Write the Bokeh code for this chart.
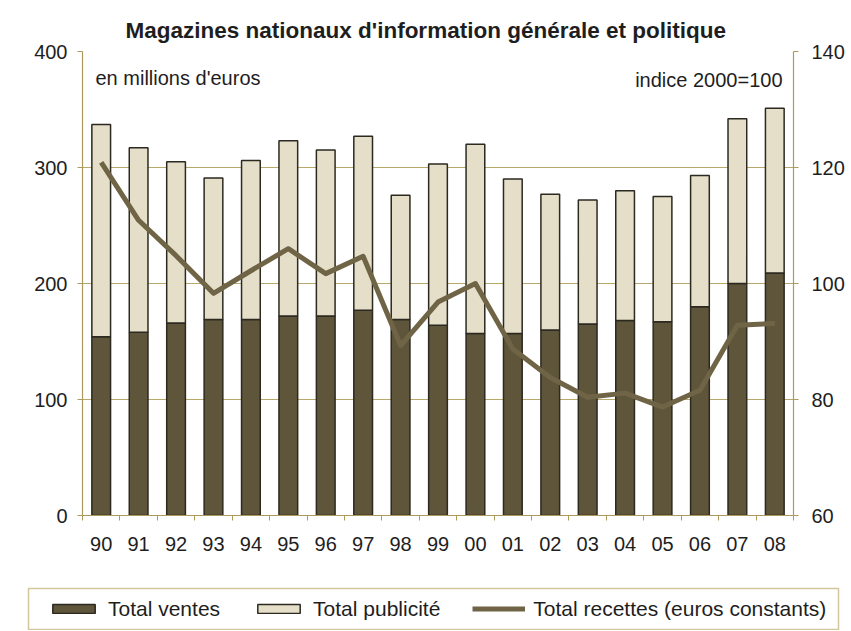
from bokeh.plotting import figure
from bokeh.layouts import column
from bokeh.models import (Range1d, LinearAxis, FixedTicker, Legend, LegendItem,
                          Label, ColumnDataSource, Grid)
from bokeh.embed import file_html
from bokeh.resources import INLINE

years = ["90", "91", "92", "93", "94", "95", "96", "97", "98", "99",
         "00", "01", "02", "03", "04", "05", "06", "07", "08"]
ventes = [154, 158, 166, 169, 169, 172, 172, 177, 169, 164,
          157, 157, 160, 165, 168, 167, 180, 200, 209]
publicite = [183, 159, 139, 122, 137, 151, 143, 150, 107, 139,
             163, 133, 117, 107, 112, 108, 113, 142, 142]
recettes = [120.9, 110.9, 104.8, 98.3, 102.2, 106.0, 101.7, 104.7, 89.3, 96.8,
            100.0, 88.7, 83.8, 80.4, 81.1, 78.7, 81.6, 92.8, 93.1]
left_ticks = [0, 100, 200, 300, 400]
grid_ticks = [100, 200, 300]
right_ticks = [60, 80, 100, 120, 140]

FONT = "Liberation Sans"
AXIS_COL = "#ab9a5c"
GRID_COL = "#b8a86c"
DARK = "#5f553a"
LIGHT = "#e5dec9"
OUT = "#2b2920"
LINE = "#6f6546"
TXT = "#1e1e1e"
W = 848

x = list(range(len(years)))
src = ColumnDataSource(dict(x=x, ventes=ventes, publicite=publicite, recettes=recettes))

p = figure(width=W, height=573, output_backend="svg", toolbar_location=None,
           x_range=Range1d(-0.5, len(years) - 0.5), y_range=Range1d(0, 400),
           min_border_left=82, min_border_right=W - 793, min_border_top=51,
           min_border_bottom=58, x_axis_location=None, y_axis_location=None)
p.frame_align = False
p.center = [r for r in p.center if not isinstance(r, Grid)]
p.extra_y_ranges = {"idx": Range1d(60, 140)}
p.outline_line_color = None
p.background_fill_color = "white"
p.border_fill_color = "white"

p.title.text = "Magazines nationaux d'information générale et politique"
p.title.align = "left"
p.title.offset = 43
p.title.standoff = 17
p.title.text_font = FONT
p.title.text_font_size = "22.5px"
p.title.text_font_style = "bold"
p.title.text_color = TXT

p.add_layout(Grid(dimension=1, ticker=FixedTicker(ticks=grid_ticks),
                  grid_line_color=GRID_COL, grid_line_width=1))

def style_axis(ax):
    ax.axis_line_color = AXIS_COL
    ax.axis_line_width = 1.2
    ax.major_tick_line_color = AXIS_COL
    ax.minor_tick_line_color = AXIS_COL
    ax.major_label_text_font = FONT
    ax.major_label_text_font_size = "20px"
    ax.major_label_text_color = TXT

xax = LinearAxis(ticker=FixedTicker(ticks=x, minor_ticks=[i - 0.5 for i in range(len(years) + 1)]),
                 major_label_overrides={i: y for i, y in enumerate(years)})
style_axis(xax)
xax.major_tick_out = 0
xax.major_tick_in = 0
xax.minor_tick_out = 5
xax.minor_tick_in = 0
xax.major_label_standoff = 16
p.add_layout(xax, "below")

lax = LinearAxis(ticker=FixedTicker(ticks=left_ticks))
style_axis(lax)
lax.major_tick_out = 5
lax.major_tick_in = 0
lax.minor_tick_line_color = None
lax.major_label_standoff = 10
p.add_layout(lax, "left")

rax = LinearAxis(y_range_name="idx", ticker=FixedTicker(ticks=right_ticks))
style_axis(rax)
rax.major_tick_out = 5
rax.major_tick_in = 0
rax.minor_tick_line_color = None
rax.major_label_standoff = 13
p.add_layout(rax, "right")

p.vbar_stack(["ventes", "publicite"], x="x", width=0.5, source=src,
             fill_color=[DARK, LIGHT], line_color=OUT, line_width=1.5)
p.line("x", "recettes", source=src, y_range_name="idx",
       line_color=LINE, line_width=5, line_join="round")

p.add_layout(Label(x=13, y=438, x_units="screen", y_units="screen",
                   text="en millions d'euros", text_font=FONT, text_font_size="20px",
                   text_color=TXT, text_baseline="middle", text_align="left"))
p.add_layout(Label(x=700, y=436, x_units="screen", y_units="screen",
                   text="indice 2000=100", text_font=FONT, text_font_size="20px",
                   text_color=TXT, text_baseline="middle", text_align="right"))

# legend strip (its frame outline is the legend box)
lf = figure(width=W, height=57, output_backend="svg", toolbar_location=None,
            x_range=Range1d(-0.5, len(years) - 0.5), y_range=Range1d(-2000, -1999),
            min_border_left=28, min_border_right=W - 838, min_border_top=15,
            min_border_bottom=1, x_axis_location=None, y_axis_location=None)
lf.frame_align = False
lf.center = [r for r in lf.center if not isinstance(r, Grid)]
lf.outline_line_color = "#d3c69a"
lf.outline_line_width = 1.5
lf.background_fill_color = "white"
lf.border_fill_color = "white"
lb = lf.vbar_stack(["ventes", "publicite"], x="x", width=0.5, source=src,
                   fill_color=[DARK, LIGHT], line_color=OUT, line_width=1.5)
ll = lf.line("x", "recettes", source=src, line_color=LINE, line_width=5)
for r in list(lb) + [ll]:
    r.visible = False

legend = Legend(items=[LegendItem(label="Total ventes", renderers=[lb[0]]),
                       LegendItem(label="Total publicité", renderers=[lb[1]]),
                       LegendItem(label="Total recettes (euros constants)", renderers=[ll])],
                orientation="horizontal", location="left", click_policy="none")
legend.label_text_font = FONT
legend.label_text_font_size = "21px"
legend.label_text_color = TXT
legend.glyph_width = 53
legend.glyph_height = 11
legend.label_standoff = 8
legend.spacing = 32
legend.padding = 0
legend.margin = 19
legend.border_line_color = None
legend.background_fill_alpha = 0
legend.inactive_fill_alpha = 0
lf.add_layout(legend, "center")

layout = column(p, lf, spacing=0)
open("out.html", "w").write(file_html(layout, INLINE))
